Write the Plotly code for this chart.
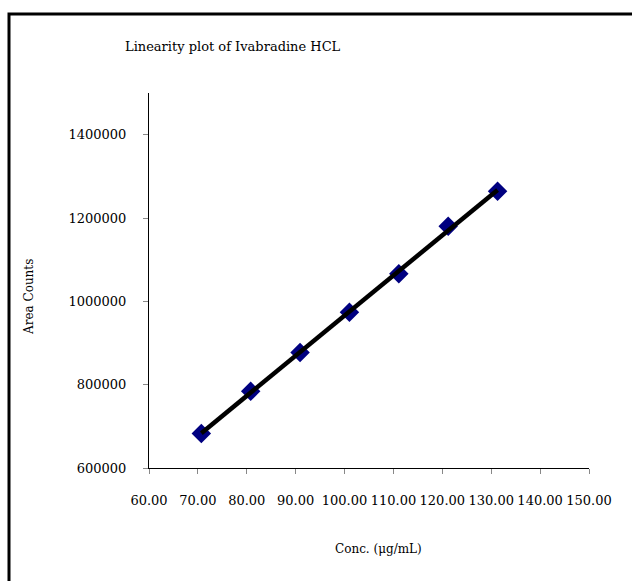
import numpy as np
import plotly.graph_objects as go

# Calibration data: concentration vs. peak area
conc = [70.70, 80.80, 90.90, 101.00, 111.10, 121.20, 131.30]
area = [683000, 784000, 877000, 974000, 1066000, 1180000, 1264000]

x_ticks = [60, 70, 80, 90, 100, 110, 120, 130, 140, 150]
y_ticks = [600000, 800000, 1000000, 1200000, 1400000]

W, H = 632, 581
L, R, T, B = 149, 43, 93, 113
pw, ph = W - L - R, H - T - B

FONT = "DejaVu Serif"


def px_to_paper_x(px):
    return (px - L) / pw


def px_to_paper_y(py):
    return (H - B - py) / ph


# Least-squares linear trendline across the measured range
slope, intercept = np.polyfit(conc, area, 1)
fit_x = [min(conc), max(conc)]
fit_y = [slope * v + intercept for v in fit_x]

fig = go.Figure()

fig.add_trace(go.Scatter(
    x=conc, y=area, mode="markers",
    marker=dict(symbol="diamond", size=15, color="#000080",
                line=dict(width=0)),
    showlegend=False,
))
fig.add_trace(go.Scatter(
    x=fit_x, y=fit_y, mode="lines",
    line=dict(color="black", width=4.5),
    showlegend=False,
))

axis_common = dict(
    showgrid=False, zeroline=False, showline=True, linecolor="black",
    linewidth=1, ticks="outside", ticklen=5, tickcolor="#888888",
    tickfont=dict(family=FONT, size=13, color="black"),
)

fig.update_xaxes(range=[60, 150], tickvals=x_ticks, tickformat=".2f",
                 ticklabelstandoff=15, **axis_common)
fig.update_yaxes(range=[600000, 1500000], tickvals=y_ticks,
                 tickformat="d", ticklabelstandoff=14, **axis_common)

fig.update_layout(
    width=W, height=H,
    margin=dict(l=L, r=R, t=T, b=B),
    plot_bgcolor="white", paper_bgcolor="white",
    shapes=[dict(
        type="rect", xref="paper", yref="paper",
        x0=px_to_paper_x(9), x1=px_to_paper_x(645),
        y0=px_to_paper_y(595), y1=px_to_paper_y(14),
        line=dict(color="black", width=3), fillcolor="rgba(0,0,0,0)",
        layer="below",
    )],
    annotations=[
        dict(text="Linearity plot of Ivabradine HCL", xref="paper",
             yref="paper", x=px_to_paper_x(123), y=px_to_paper_y(47),
             xanchor="left", yanchor="middle", showarrow=False,
             font=dict(family=FONT, size=13, color="black")),
        dict(text="Conc. (μg/mL)", xref="paper", yref="paper",
             x=px_to_paper_x(378), y=px_to_paper_y(549),
             xanchor="center", yanchor="middle", showarrow=False,
             font=dict(family=FONT, size=12, color="black")),
        dict(text="Area Counts", xref="paper", yref="paper",
             x=px_to_paper_x(29), y=px_to_paper_y(297), textangle=-90,
             xanchor="center", yanchor="middle", showarrow=False,
             font=dict(family=FONT, size=12, color="black")),
    ],
)

fig.write_html("out.html")
